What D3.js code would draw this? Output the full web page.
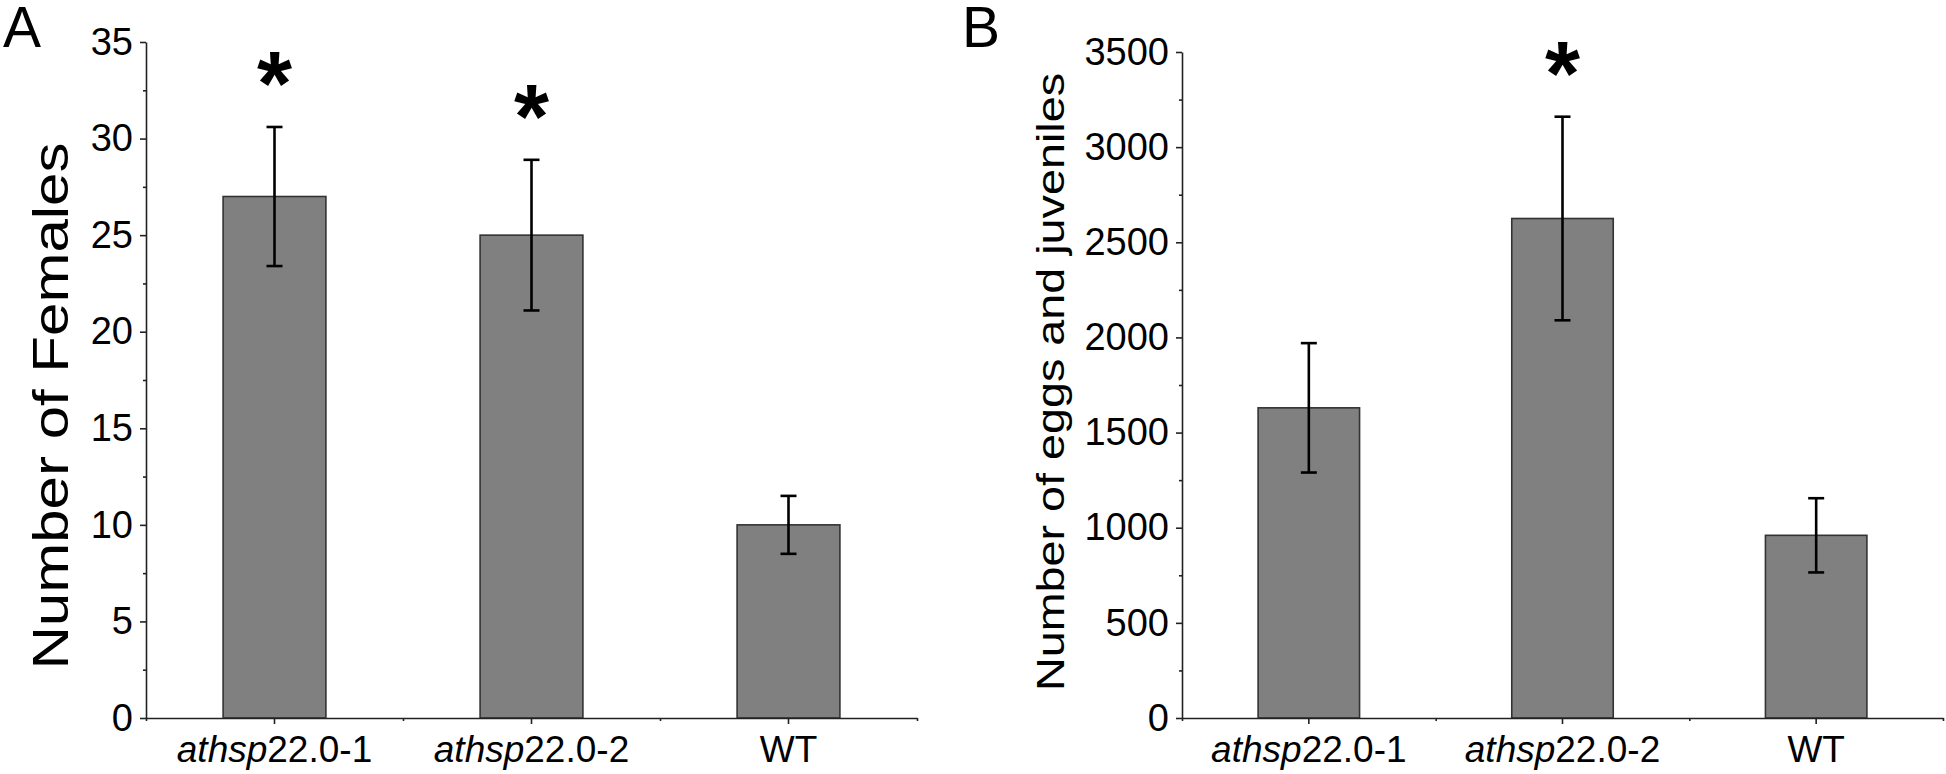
<!DOCTYPE html>
<html>
<head>
<meta charset="utf-8">
<script src="https://cdn.jsdelivr.net/npm/d3@7"></script>
<style>
  body { margin: 0; background: #fff; }
  svg { display: block; }
  .axis path, .axis line { stroke: #222; stroke-width: 1.6px; }
  .axis text { font-family: "Liberation Sans", Arial, sans-serif; fill: #000; }
</style>
</head>
<body>
<svg id="chart" width="1946" height="774"></svg>
<script>
// categories and x labels (italic part + plain part)
var categories = ["athsp22.0-1", "athsp22.0-2", "WT"];
var labelItalic = ["athsp", "athsp", ""];
var labelPlain = ["22.0-1", "22.0-2", "WT"];

// panel A: number of females
var femalesMean = [27, 25, 10];
var femalesErr = [3.6, 3.9, 1.5];
var femalesSig = [true, true, false];
var femalesTicks = [0, 5, 10, 15, 20, 25, 30, 35];

// panel B: number of eggs and juveniles
var eggsMean = [1630, 2625, 960];
var eggsErr = [340, 535, 195];
var eggsSig = [false, true, false];
var eggsTicks = [0, 500, 1000, 1500, 2000, 2500, 3000, 3500];

var svg = d3.select("#chart");
svg.append("rect").attr("width", 1946).attr("height", 774).attr("fill", "#fff");

function drawpanel(opt){
    var x = d3.scaleBand().domain(categories)
        .range([opt.left, opt.right]).paddingInner(0.6).paddingOuter(0.3);
    var xb = d3.scaleLinear().domain([0, categories.length]).range([opt.left, opt.right]);
    var top = opt.ticks[opt.ticks.length - 1];
    var y = d3.scaleLinear().domain([0, top]).range([opt.bottom, opt.top]);
    var step = opt.ticks[1] - opt.ticks[0];
    var minor = opt.ticks.slice(0, -1).map(function(t){ return t + step / 2; });

    var g = svg.append("g");

    // bars
    g.selectAll(".bar").data(opt.mean).enter().append("rect")
        .attr("x", function(d, i){ return x(categories[i]); })
        .attr("width", x.bandwidth())
        .attr("y", function(d){ return y(d); })
        .attr("height", function(d){ return y(0) - y(d); })
        .attr("fill", "#808080")
        .attr("stroke", "#333")
        .attr("stroke-width", 1.6);

    // error bars
    var cx = function(i){ return x(categories[i]) + x.bandwidth() / 2; };
    opt.mean.forEach(function(m, i){
        var e = opt.err[i];
        g.append("line").attr("x1", cx(i)).attr("x2", cx(i))
            .attr("y1", y(m - e)).attr("y2", y(m + e))
            .attr("stroke", "#000").attr("stroke-width", 2.6);
        [m - e, m + e].forEach(function(v){
            g.append("line").attr("x1", cx(i) - 8).attr("x2", cx(i) + 8)
                .attr("y1", y(v)).attr("y2", y(v))
                .attr("stroke", "#000").attr("stroke-width", 2.6);
        });
        if(opt.sig[i]){
            g.append("text").attr("x", cx(i)).attr("y", y(m + e) - 12)
                .attr("text-anchor", "middle")
                .style("font-family", "Liberation Sans, Arial, sans-serif")
                .style("font-weight", "bold").style("font-size", "90px")
                .text("*");
        }
    });

    // y axis
    var ya = g.append("g").attr("class", "axis")
        .attr("transform", "translate(" + opt.left + ",0)")
        .call(d3.axisLeft(y).tickValues(opt.ticks).tickSize(6).tickSizeOuter(0)
            .tickPadding(7).tickFormat(d3.format("d")));
    ya.selectAll("text").style("font-size", "38px");
    g.append("g").attr("class", "axis")
        .attr("transform", "translate(" + opt.left + ",0)")
        .call(d3.axisLeft(y).tickValues(minor).tickSize(3).tickFormat(""))
        .select(".domain").remove();

    // x axis
    g.append("g").attr("class", "axis")
        .attr("transform", "translate(0," + opt.bottom + ")")
        .call(d3.axisBottom(x).tickSize(6).tickSizeOuter(0).tickFormat(""));
    g.append("g").attr("class", "axis")
        .attr("transform", "translate(0," + opt.bottom + ")")
        .call(d3.axisBottom(xb).tickValues(d3.range(categories.length + 1)).tickSize(3).tickFormat(""))
        .select(".domain").remove();

    // x labels with italic gene name
    categories.forEach(function(c, i){
        var t = g.append("text").attr("x", cx(i)).attr("y", opt.bottom + 44)
            .attr("text-anchor", "middle")
            .style("font-family", "Liberation Sans, Arial, sans-serif")
            .style("font-size", "37px");
        if(labelItalic[i]) t.append("tspan").style("font-style", "italic").text(labelItalic[i]);
        t.append("tspan").text(labelPlain[i]);
    });

    // y title
    g.append("text")
        .attr("transform", "translate(" + opt.titleX + "," + opt.titleY + ") rotate(-90)")
        .attr("text-anchor", "middle")
        .attr("textLength", opt.titleLen).attr("lengthAdjust", "spacingAndGlyphs")
        .style("font-family", "Liberation Sans, Arial, sans-serif")
        .style("font-size", opt.titleSize + "px")
        .text(opt.title);

    // panel letter
    g.append("text").attr("x", opt.letterX).attr("y", 47)
        .style("font-family", "Liberation Sans, Arial, sans-serif")
        .style("font-size", "57px")
        .text(opt.letter);
}

drawpanel({left: 146, right: 917, top: 42, bottom: 718, ticks: femalesTicks,
    mean: femalesMean, err: femalesErr, sig: femalesSig,
    title: "Number of Females", titleX: 68, titleY: 406, titleLen: 527, titleSize: 50,
    letter: "A", letterX: 3});

drawpanel({left: 1182, right: 1943, top: 52, bottom: 718, ticks: eggsTicks,
    mean: eggsMean, err: eggsErr, sig: eggsSig,
    title: "Number of eggs and juveniles", titleX: 1064, titleY: 382, titleLen: 618, titleSize: 39,
    letter: "B", letterX: 962});
</script>
</body>
</html>
